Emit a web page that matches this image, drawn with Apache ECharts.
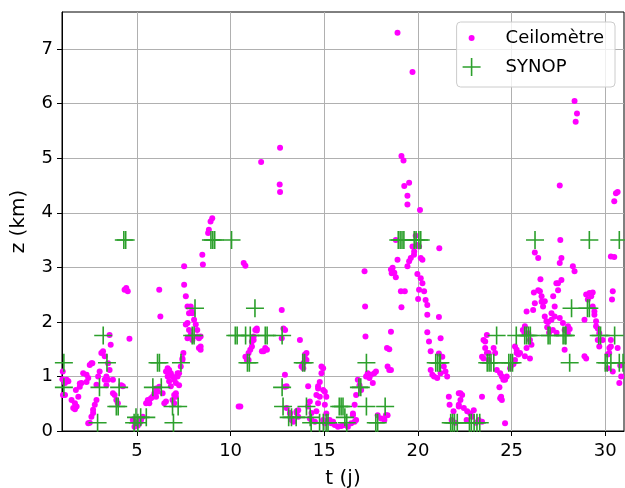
<!DOCTYPE html>
<html>
<head>
<meta charset="utf-8">
<script src="https://cdn.jsdelivr.net/npm/echarts@6/dist/echarts.min.js"></script>
<style>
  html, body { margin: 0; padding: 0; background: #fff; }
  #chart { width: 625px; height: 488px; }
</style>
</head>
<body>
<div id="chart"></div>
<script>
// ticks
const xTicks = [5, 10, 15, 20, 25, 30];
const yTicks = [0, 1, 2, 3, 4, 5, 6, 7];

// ceilometre cloud base heights [t (j), z (km)]
const ceilometre = [
  [1.04,1.09],[1.02,0.95],[1.05,0.66],[1.16,0.88],[1.34,0.91],[1.16,0.66],[1.25,0.94],[1.74,0.75],
  [1.51,0.57],[1.69,0.51],[1.78,0.45],[1.6,0.42],[1.69,0.4],[1.87,0.63],[2.13,1.06],[2.31,1.03],
  [2.4,0.97],[1.95,0.81],[2.04,0.88],[2.48,1.21],[2.62,1.24],[2.4,0.14],[2.66,0.33],[2.75,0.48],
  [2.84,0.57],[2.84,0.85],[2.93,1.0],[3.01,1.09],[3.1,1.43],[3.19,1.46],[3.28,1.37],[3.54,1.76],
  [3.6,1.58],[3.37,1.0],[3.46,0.94],[3.72,0.94],[3.81,0.66],[3.9,0.57],[3.98,0.51],[4.25,0.82],
  [4.34,2.59],[4.51,2.56],[4.43,2.62],[4.6,1.69],[4.87,0.17],[4.96,0.11],[5.13,0.14],[5.22,0.2],
  [5.31,0.26],[4.78,0.2],[4.87,0.08],[5.05,0.1],[3.46,1.24],[3.54,1.12],[3.37,0.84],[3.72,0.69],
  [2.66,0.39],[2.57,0.26],[2.48,0.15],[3.28,0.94],[4.16,0.84],[1.95,0.87],[2.31,0.9],[2.57,1.24],
  [5.49,0.51],[5.63,0.54],[5.75,0.6],[5.93,0.69],[6.02,0.63],[6.1,0.72],[6.19,0.81],[6.02,0.78],
  [6.19,2.59],[6.25,2.1],[6.37,0.69],[6.46,0.51],[6.55,0.54],[6.55,1.09],[6.64,1.15],[6.72,1.12],
  [6.81,1.06],[6.9,1.0],[6.99,0.94],[7.08,0.88],[7.17,1.0],[7.25,1.06],[6.81,0.82],[6.99,0.66],
  [7.08,0.69],[7.34,1.18],[7.43,1.3],[7.48,1.43],[7.52,3.02],[7.52,2.68],[7.61,2.47],[7.7,2.28],
  [7.87,2.28],[7.92,2.19],[7.61,1.95],[7.7,1.98],[7.78,1.85],[7.87,1.76],[7.96,1.67],[7.7,1.7],
  [8.05,2.04],[8.14,1.95],[8.22,1.85],[8.31,1.7],[8.31,1.52],[8.4,1.49],[8.49,3.23],[8.52,3.05],
  [8.8,3.63],[8.84,3.69],[8.93,3.84],[9.02,3.9],[5.58,0.57],[5.66,0.51],[5.84,0.63],[6.9,0.57],
  [6.99,0.51],[7.08,0.63],[6.64,1.0],[6.72,0.91],[7.25,0.84],[8.22,1.73],[8.4,1.73],[8.4,1.55],
  [7.96,2.16],[7.78,2.16],[7.43,1.33],[7.17,1.06],
  [10.43,0.45],[10.52,0.45],[10.79,1.36],[10.87,1.3],[10.96,1.43],[11.05,1.49],[11.14,1.55],[11.23,1.67],
  [11.32,1.85],[11.4,1.88],[10.7,3.08],[10.79,3.03],[11.67,1.46],[11.85,1.52],[11.94,1.49],[11.76,1.46],
  [11.63,4.93],[12.64,5.19],[12.62,4.52],[12.64,4.38],[12.73,2.22],[12.82,1.88],[12.73,1.7],[12.9,1.03],
  [12.99,0.82],[12.9,0.81],[10.96,1.3],[11.23,1.73],[11.14,1.64],[11.4,1.84],[12.91,1.85],
  [13.7,1.67],[13.79,1.18],[13.88,1.15],[13.97,1.4],[14.05,1.3],[14.05,1.43],[13.97,1.33],[13.88,1.24],
  [14.14,0.82],[14.23,0.54],[14.14,0.45],[14.32,0.33],[13.17,0.33],[13.26,0.2],[13.52,0.33],[13.61,0.38],
  [14.67,0.82],[14.58,0.66],[12.99,0.42],[13.17,0.32],[13.26,0.23],[13.35,0.17],[13.52,0.36],[13.61,0.26],
  [14.23,0.23],[14.32,0.2],[14.5,0.17],[14.58,0.36],[14.67,0.51],[14.76,0.63],[14.67,0.78],[14.76,0.9],
  [14.85,1.06],[14.94,1.15],[14.85,1.18],[14.94,0.75],[15.03,0.72],[15.11,0.63],[15.03,0.48],[15.11,0.32],
  [15.2,0.2],[15.38,0.14],[15.56,0.11],[15.73,0.08],[15.91,0.09],[16.09,0.11],[16.26,0.08],[16.44,0.14],
  [16.62,0.17],[16.53,0.29],[16.62,0.48],[16.7,0.66],[16.79,0.94],[16.88,0.84],[16.97,0.75],[15.29,0.2],
  [15.47,0.17],[15.03,0.14],[14.94,0.2],[16.7,0.2],[16.53,0.32],
  [17.15,2.93],[17.18,2.28],[17.2,1.73],[17.23,1.0],[17.32,1.06],[17.41,0.97],[17.5,1.03],[17.59,0.88],
  [17.67,1.06],[17.76,1.09],[17.85,0.29],[18.03,0.23],[18.21,0.2],[18.29,0.29],[18.38,0.29],[18.35,1.52],
  [18.47,1.5],[18.56,1.82],[18.38,1.18],[18.47,1.12],[18.56,1.12],[18.56,2.96],[18.6,2.89],[18.65,2.99],
  [18.74,2.9],[18.82,2.82],
  [18.82,3.5],[18.91,7.3],[18.91,3.14],[19.09,2.56],[19.3,2.56],[19.12,2.27],[19.44,3.02],[19.53,3.11],
  [19.62,3.17],[19.71,3.38],[19.8,3.29],[19.79,3.23],[19.88,3.58],[19.97,3.41],[20.06,3.38],[19.97,2.88],
  [20.15,2.8],[20.24,2.71],[20.33,2.56],[20.41,2.4],[20.5,2.31],[20.06,2.59],[20.01,2.42],[20.15,3.17],
  [20.24,3.14],[20.5,2.13],[20.5,1.81],[20.59,1.64],[20.68,1.46],[21.12,2.09],[21.21,1.7],[20.68,1.12],
  [20.77,1.03],[20.86,1.0],[21.03,0.97],[21.21,1.06],[21.12,1.42],[21.3,1.36],[21.38,1.18],[21.47,1.09],
  [21.56,1.0],[19.71,6.58],[19.12,5.04],[19.23,4.96],[19.27,4.49],[19.53,4.55],[19.44,4.31],[19.44,4.15],
  [20.11,4.05],[21.14,3.35],
  [21.65,0.63],[21.69,0.48],[22.18,0.69],[22.27,0.69],[22.36,0.66],[22.27,0.57],[22.18,0.48],[21.9,0.36],
  [22.18,0.45],[22.45,0.42],[22.63,0.36],[22.8,0.32],[22.98,0.38],[22.89,0.26],[23.24,0.2],[23.42,0.17],
  [23.42,0.63],[21.8,0.2],[22.0,0.15],[22.6,0.2],[23.1,0.15],
  [23.5,1.67],[23.68,1.76],[23.59,1.52],[23.77,1.43],[23.42,1.36],[23.5,1.33],[24.04,1.52],[24.12,1.43],
  [23.59,1.64],[23.68,1.43],[23.77,1.3],[24.21,1.12],[24.39,1.06],[24.48,1.0],[24.56,0.94],[24.65,0.94],
  [24.74,1.0],[24.35,0.8],[24.44,0.63],[24.39,0.6],[24.48,0.57],[24.65,0.14],
  [25.27,1.49],[25.36,1.4],[25.45,1.43],[25.18,1.3],[25.1,1.23],[25.6,1.85],[25.69,1.79],[25.98,1.33],
  [25.8,2.19],[26.15,2.22],[26.24,2.34],[26.19,2.54],[26.51,2.56],[26.6,2.47],[26.77,2.38],[26.54,2.78],
  [26.24,3.27],[26.42,3.17],[27.6,3.5],[27.66,3.17],[27.57,3.08],[28.27,3.02],[28.36,2.93],[27.39,2.71],
  [27.66,2.77],[27.22,2.47],[26.77,2.1],[26.86,2.01],[27.13,2.16],[27.3,2.1],[27.57,2.07],[27.74,1.98],
  [27.83,1.85],[28.0,1.79],[27.83,1.49],[28.1,1.87],[28.01,1.92],[25.71,1.92],[25.89,1.79],[25.98,1.67],
  [26.06,1.58],[25.8,1.52],[25.71,1.37],[25.18,1.55],[25.27,1.43],[25.01,1.21],[24.92,1.15],[26.68,2.28],
  [27.13,2.04],[27.3,2.28],[26.6,2.37],[26.42,2.58],[27.48,2.71],[27.48,2.58],[27.57,4.5],[28.36,6.05],
  [28.49,5.82],[28.42,5.67],[26.9,1.9],[27.0,1.8],[27.2,1.85],[27.4,1.8],[26.95,2.0],
  [28.89,1.37],[28.98,1.33],[29.16,2.53],[29.33,2.54],[29.07,2.41],[29.25,2.47],[28.98,2.5],[29.42,2.13],
  [29.51,2.01],[29.6,1.88],[29.68,1.79],[29.6,1.67],[29.68,1.55],[29.33,2.28],[29.42,2.19],[29.51,1.92],
  [28.89,2.04],[29.86,1.67],[30.22,1.52],[30.13,1.4],[30.3,1.67],[30.13,1.15],[30.4,1.09],[30.3,3.2],
  [30.36,2.41],[30.4,2.56],[30.66,1.52],[30.75,0.88],[30.48,4.21],[30.57,4.36],[30.66,4.38],[30.48,3.19],
  [30.21,1.43],[30.3,1.55],[30.8,1.2],[30.85,1.0]
];

// SYNOP cloud base heights [t (j), z (km)]
const synop = [
  [1.1,1.25],[1.1,0.8],[2.9,0.15],[3.0,0.8],[3.2,1.75],[3.4,1.25],[3.9,0.45],[4.0,0.45],
  [4.05,0.8],[4.3,3.5],[4.4,3.5],[4.85,0.15],[4.95,0.25],[5.05,0.15],[5.2,0.25],[5.5,0.25],
  [5.85,0.8],[6.1,1.25],[6.2,1.25],[6.3,0.8],[6.9,0.45],[6.95,0.15],[7.2,0.45],[7.35,1.25],
  [7.95,1.75],[8.05,1.75],[8.1,2.25],[8.95,3.5],[9.05,3.5],[9.15,3.5],[10.05,3.5],[10.25,1.75],
  [10.35,1.75],[10.8,1.75],[10.9,1.25],[11.0,1.25],[11.05,1.75],[11.3,2.25],[11.85,1.75],[11.95,1.75],
  [12.75,1.75],[12.75,0.8],[12.8,0.45],[13.1,0.25],[13.25,0.25],[13.5,0.25],[13.85,1.25],[13.95,1.25],
  [14.05,0.45],[14.25,0.25],[14.3,0.15],[14.75,0.15],[14.95,0.15],[15.1,0.15],[15.2,0.15],[15.8,0.45],
  [15.9,0.45],[16.0,0.45],[16.1,0.25],[16.2,0.15],[16.85,0.8],[16.95,0.8],[17.25,1.25],[17.25,0.45],
  [17.75,0.15],[17.85,0.15],[18.25,0.45],[18.95,3.5],[19.05,3.5],[19.15,3.5],[19.25,3.5],[19.8,3.5],
  [19.9,3.5],[20.05,3.5],[20.15,3.5],[20.95,1.25],[21.05,1.25],[21.15,1.25],[21.2,1.25],[21.75,0.15],
  [21.85,0.15],[21.95,0.15],[22.1,0.15],[22.75,0.15],[22.85,0.15],[23.0,0.15],[23.15,0.15],[23.3,0.15],
  [23.7,1.25],[23.8,1.25],[23.9,1.25],[24.05,1.25],[24.2,1.75],[24.85,1.25],[24.95,1.25],[25.05,1.25],
  [25.25,1.75],[25.7,1.75],[25.8,1.75],[25.9,1.75],[26.0,1.75],[26.25,3.5],[26.95,1.75],[27.05,1.75],
  [27.75,1.75],[27.85,1.75],[27.9,1.75],[28.1,1.25],[28.2,2.25],[29.05,2.25],[29.15,2.25],[29.15,3.5],
  [29.65,1.75],[29.75,1.75],[30.0,1.25],[30.1,1.25],[30.3,1.25],[30.5,1.75],[30.75,1.25],[30.75,3.5],
  [30.95,1.25]
];

const plusPath = 'path://M8.2,0h1.6v18h-1.6zM0,8.2h18v1.6h-18z';
const dotIcon = 'path://M0,0M18,18M12,9A3,3,0,1,1,6,9A3,3,0,1,1,12,9Z';
const font = 'DejaVu Sans';

const chart = echarts.init(document.getElementById('chart'), null, { renderer: 'canvas' });

const option = {
  animation: false,
  backgroundColor: '#fff',
  grid: {
    left: 62, right: 1, top: 12, bottom: 57,
    show: true, borderColor: '#000', borderWidth: 1,
    outerBoundsMode: 'none'
  },
  legend: {
    right: 10, top: 22,
    orient: 'vertical',
    itemWidth: 40, itemHeight: 18, itemGap: 9,
    padding: [6, 11, 10, 6],
    backgroundColor: 'rgba(255,255,255,0.8)',
    borderColor: '#cccccc', borderWidth: 1, borderRadius: 4,
    textStyle: { fontFamily: font, fontSize: 18, color: '#000', lineHeight: 20, padding: [0, 0, 0, 9] },
    data: [
      { name: 'Ceilomètre', icon: dotIcon },
      { name: 'SYNOP', icon: plusPath }
    ]
  },
  xAxis: {
    type: 'value', min: 1, max: 31,
    name: 't (j)', nameLocation: 'middle', nameGap: 38,
    nameTextStyle: { fontFamily: font, fontSize: 20, color: '#000' },
    axisLine: { show: true, onZero: false, lineStyle: { color: '#000', width: 1 } },
    axisTick: { show: true, length: 5, customValues: xTicks, lineStyle: { color: '#000' } },
    axisLabel: { customValues: xTicks, fontFamily: font, fontSize: 18, color: '#000', margin: 11 },
    splitLine: { show: true, lineStyle: { color: '#b0b0b0', width: 1 } }
  },
  yAxis: {
    type: 'value', min: 0, max: 7.68,
    name: 'z (km)', nameLocation: 'middle', nameGap: 33, nameRotate: 90,
    nameTextStyle: { fontFamily: font, fontSize: 20, color: '#000' },
    axisLine: { show: true, onZero: false, lineStyle: { color: '#000', width: 1 } },
    axisTick: { show: true, length: 5, customValues: yTicks, lineStyle: { color: '#000' } },
    axisLabel: { customValues: yTicks, fontFamily: font, fontSize: 18, color: '#000', margin: 9 },
    splitLine: { show: true, lineStyle: { color: '#b0b0b0', width: 1 } }
  },
  series: [
    {
      name: 'Ceilomètre', type: 'scatter',
      data: ceilometre,
      symbol: 'circle', symbolSize: 6,
      itemStyle: { color: '#ff00ff', opacity: 1 }
    },
    {
      name: 'SYNOP', type: 'scatter',
      data: synop,
      symbol: plusPath, symbolSize: 18,
      itemStyle: { color: '#2ca02c', opacity: 1 }
    }
  ]
};

chart.setOption(option);
window.addEventListener('resize', () => chart.resize());
</script>
</body>
</html>
